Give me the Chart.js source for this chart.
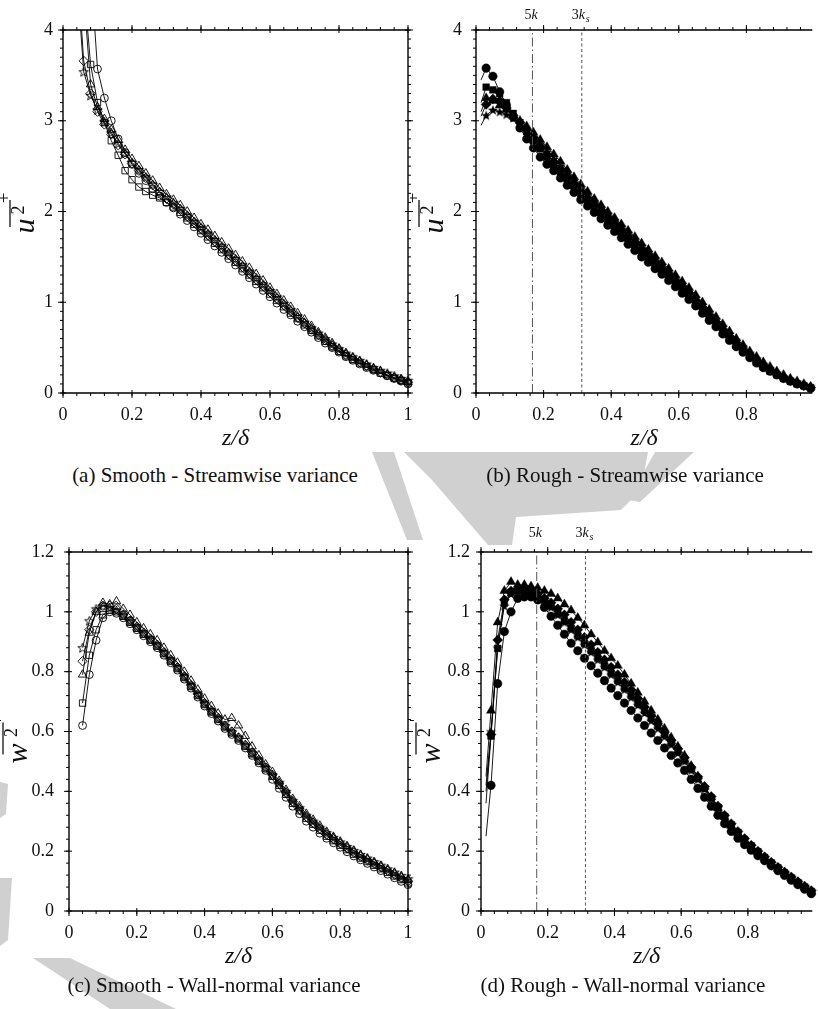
<!DOCTYPE html>
<html lang="en">
<head>
  <meta charset="UTF-8" />
  <title>Streamwise and wall-normal variance profiles</title>
  <script src="https://cdn.jsdelivr.net/npm/chart.js"></script>
  <style>
    body { margin: 0; background: #fff; width: 818px; height: 1009px; overflow: hidden; position: relative; }
    canvas { position: absolute; }
    .caption {
      position: absolute; transform: translate(-50%, -50%); white-space: nowrap;
      font-family: "Liberation Serif", "Times New Roman", serif; font-size: 21px; color: #111;
    }
    .mark { position: absolute; left: 0; top: 0; width: 818px; height: 1009px; background: #d0d0d0; }
  </style>
</head>
<body>
  <!-- pale background stamp -->
  <div class="mark" style="clip-path: polygon(372px 452px, 394px 452px, 423px 540px, 407px 540px)"></div>
  <div class="mark" style="clip-path: polygon(404px 452px, 648px 452px, 641px 490px, 621px 510px, 516px 517px, 512px 545px, 488px 545px, 432px 480px)"></div>
  <div class="mark" style="clip-path: polygon(655px 452px, 694px 452px, 640px 502px, 628px 500px)"></div>
  <div class="mark" style="clip-path: polygon(33px 958px, 70px 958px, 176px 1009px, 110px 1009px)"></div>
  <div class="mark" style="clip-path: polygon(0px 878px, 12px 878px, 8px 940px, 0px 946px)"></div>
  <div class="mark" style="clip-path: polygon(0px 782px, 8px 784px, 6px 814px, 0px 818px)"></div>

  <canvas id="smoothU" width="418" height="460" style="left:0;top:0"></canvas>
  <canvas id="roughU" width="408" height="460" style="left:410px;top:0"></canvas>
  <canvas id="smoothW" width="418" height="478" style="left:0;top:500px"></canvas>
  <canvas id="roughW" width="408" height="478" style="left:410px;top:500px"></canvas>
  <div class="caption" style="left:215px;top:475px">(a) Smooth - Streamwise variance</div>
  <div class="caption" style="left:625px;top:475px">(b) Rough - Streamwise variance</div>
  <div class="caption" style="left:214px;top:985px">(c) Smooth - Wall-normal variance</div>
  <div class="caption" style="left:623px;top:985px">(d) Rough - Wall-normal variance</div>

  <script>
    // wall-normal positions z/delta
    const zSmooth = [0.04, 0.06, 0.08, 0.1, 0.12, 0.14, 0.16, 0.18, 0.2, 0.22, 0.24, 0.26, 0.28, 0.3, 0.32, 0.34, 0.36, 0.38, 0.4, 0.42,
      0.44, 0.46, 0.48, 0.5, 0.52, 0.54, 0.56, 0.58, 0.6, 0.62, 0.64, 0.66, 0.68, 0.7, 0.72, 0.74, 0.76, 0.78, 0.8, 0.82,
      0.84, 0.86, 0.88, 0.9, 0.92, 0.94, 0.96, 0.98, 1.0];
    const zRough = [0.015, 0.03, 0.05, 0.07, 0.09, 0.11, 0.13, 0.15, 0.17, 0.19, 0.21, 0.23, 0.25, 0.27, 0.29, 0.31, 0.33, 0.35, 0.37, 0.39,
      0.41, 0.43, 0.45, 0.47, 0.49, 0.51, 0.53, 0.55, 0.57, 0.59, 0.61, 0.63, 0.65, 0.67, 0.69, 0.71, 0.73, 0.75, 0.77, 0.79,
      0.81, 0.83, 0.85, 0.87, 0.89, 0.91, 0.93, 0.95, 0.97, 0.99];

    // smooth wall, streamwise variance u'^2+
    const smoothUCircle = [null, null, 4.7, 3.57, 3.25, 3.0, 2.8, 2.65, 2.52, 2.42, 2.34, 2.25, 2.17, 2.1, 2.04, 1.97, 1.9, 1.83, 1.76, 1.69,
      1.62, 1.55, 1.48, 1.41, 1.34, 1.27, 1.2, 1.13, 1.06, 0.99, 0.92, 0.86, 0.79, 0.73, 0.67, 0.61, 0.55, 0.5, 0.45, 0.4,
      0.36, 0.32, 0.28, 0.25, 0.22, 0.19, 0.16, 0.13, 0.1];
    const smoothUSquare = [null, 4.5, 3.62, 3.2, 2.98, 2.78, 2.62, 2.45, 2.35, 2.27, 2.22, 2.18, 2.15, 2.1, 2.05, 1.99, 1.93, 1.86, 1.79, 1.72,
      1.65, 1.58, 1.51, 1.44, 1.37, 1.3, 1.23, 1.16, 1.09, 1.02, 0.95, 0.88, 0.82, 0.75, 0.69, 0.63, 0.57, 0.51, 0.46, 0.41,
      0.37, 0.33, 0.29, 0.26, 0.22, 0.19, 0.16, 0.14, 0.11];
    const smoothUDiamond = [4.8, 3.66, 3.3, 3.1, 2.96, 2.85, 2.73, 2.63, 2.53, 2.45, 2.37, 2.29, 2.21, 2.14, 2.08, 2.02, 1.95, 1.88, 1.81, 1.74,
      1.67, 1.6, 1.53, 1.46, 1.39, 1.32, 1.25, 1.18, 1.11, 1.04, 0.97, 0.9, 0.83, 0.77, 0.7, 0.64, 0.58, 0.52, 0.47, 0.42,
      0.38, 0.34, 0.3, 0.26, 0.23, 0.2, 0.17, 0.14, 0.12];
    const smoothUTriangle = [null, 4.4, 3.4, 3.15, 3.02, 2.9, 2.79, 2.68, 2.58, 2.5, 2.42, 2.34, 2.26, 2.19, 2.13, 2.07, 2.0, 1.93, 1.86, 1.8,
      1.73, 1.66, 1.59, 1.52, 1.45, 1.38, 1.31, 1.24, 1.16, 1.09, 1.02, 0.95, 0.88, 0.81, 0.74, 0.67, 0.61, 0.55, 0.49, 0.44,
      0.39, 0.35, 0.31, 0.27, 0.24, 0.2, 0.17, 0.15, 0.12];
    const smoothUStar = [4.6, 3.54, 3.28, 3.12, 2.99, 2.87, 2.75, 2.64, 2.54, 2.46, 2.38, 2.3, 2.22, 2.16, 2.1, 2.03, 1.96, 1.89, 1.83, 1.76,
      1.69, 1.62, 1.55, 1.48, 1.41, 1.34, 1.27, 1.2, 1.13, 1.06, 0.99, 0.92, 0.85, 0.78, 0.72, 0.66, 0.6, 0.54, 0.49, 0.44,
      0.4, 0.36, 0.32, 0.28, 0.25, 0.22, 0.19, 0.16, 0.14];

    // rough wall, streamwise variance
    const roughUCircle = [3.45, 3.58, 3.49, 3.32, 3.17, 3.04, 2.92, 2.8, 2.7, 2.6, 2.52, 2.45, 2.37, 2.29, 2.21, 2.13, 2.06, 1.99, 1.92, 1.85,
      1.78, 1.71, 1.64, 1.57, 1.5, 1.44, 1.37, 1.31, 1.24, 1.17, 1.1, 1.03, 0.96, 0.88, 0.8, 0.73, 0.65, 0.58, 0.51, 0.45,
      0.39, 0.33, 0.28, 0.24, 0.2, 0.16, 0.13, 0.1, 0.08, 0.05];
    const roughUSquare = [3.2, 3.37, 3.34, 3.3, 3.2, 3.08, 2.98, 2.88, 2.78, 2.69, 2.6, 2.52, 2.44, 2.36, 2.28, 2.2, 2.12, 2.05, 1.98, 1.91,
      1.84, 1.77, 1.7, 1.63, 1.56, 1.49, 1.42, 1.35, 1.28, 1.21, 1.14, 1.07, 0.99, 0.91, 0.83, 0.75, 0.67, 0.6, 0.53, 0.46,
      0.4, 0.34, 0.29, 0.24, 0.2, 0.16, 0.13, 0.1, 0.08, 0.06];
    const roughUDiamond = [3.05, 3.18, 3.24, 3.22, 3.14, 3.06, 2.98, 2.9, 2.81, 2.72, 2.63, 2.55, 2.47, 2.39, 2.31, 2.23, 2.15, 2.08, 2.01, 1.94,
      1.87, 1.8, 1.73, 1.66, 1.59, 1.52, 1.45, 1.38, 1.31, 1.24, 1.17, 1.1, 1.02, 0.94, 0.86, 0.78, 0.7, 0.62, 0.55, 0.48,
      0.42, 0.36, 0.3, 0.25, 0.21, 0.17, 0.14, 0.11, 0.08, 0.06];
    const roughUTriangle = [3.1, 3.25, 3.22, 3.17, 3.12, 3.06, 3.0, 2.94, 2.87, 2.79, 2.71, 2.63, 2.55, 2.46, 2.38, 2.3, 2.22, 2.14, 2.07, 2.0,
      1.93, 1.86, 1.79, 1.72, 1.65, 1.58, 1.51, 1.44, 1.37, 1.3, 1.23, 1.16, 1.08, 1.0, 0.92, 0.84, 0.76, 0.68, 0.6, 0.53,
      0.46, 0.4, 0.34, 0.29, 0.24, 0.2, 0.16, 0.13, 0.1, 0.07];
    const roughUStar = [2.95, 3.06, 3.12, 3.1, 3.07, 3.03, 2.97, 2.9, 2.82, 2.74, 2.66, 2.58, 2.5, 2.42, 2.34, 2.26, 2.18, 2.11, 2.04, 1.97,
      1.9, 1.83, 1.76, 1.69, 1.62, 1.55, 1.48, 1.41, 1.34, 1.27, 1.2, 1.13, 1.05, 0.97, 0.89, 0.81, 0.73, 0.65, 0.58, 0.51,
      0.44, 0.38, 0.32, 0.27, 0.22, 0.18, 0.15, 0.12, 0.09, 0.07];

    // smooth wall, wall-normal variance w'^2+
    const smoothWCircle = [0.62, 0.79, 0.905, 0.98, 1.0, 0.995, 0.98, 0.96, 0.94, 0.92, 0.9, 0.88, 0.855, 0.83, 0.805, 0.775, 0.745, 0.715, 0.685, 0.66,
      0.635, 0.61, 0.59, 0.57, 0.545, 0.52, 0.495, 0.47, 0.44, 0.41, 0.38, 0.35, 0.325, 0.3, 0.28, 0.26, 0.243, 0.228, 0.213, 0.198,
      0.184, 0.171, 0.159, 0.147, 0.135, 0.123, 0.111, 0.099, 0.088];
    const smoothWSquare = [0.695, 0.855, 0.94, 0.99, 1.005, 1.0, 0.985, 0.965, 0.945, 0.925, 0.905, 0.885, 0.86, 0.835, 0.81, 0.78, 0.75, 0.72, 0.69, 0.665,
      0.64, 0.615, 0.595, 0.575, 0.55, 0.525, 0.5, 0.475, 0.45, 0.42, 0.39, 0.36, 0.335, 0.31, 0.29, 0.27, 0.25, 0.235, 0.22, 0.205,
      0.19, 0.177, 0.165, 0.153, 0.141, 0.129, 0.117, 0.105, 0.094];
    const smoothWDiamond = [0.835, 0.94, 1.0, 1.02, 1.02, 1.01, 0.99, 0.97, 0.95, 0.93, 0.91, 0.89, 0.865, 0.84, 0.815, 0.785, 0.755, 0.725, 0.695, 0.67,
      0.645, 0.62, 0.6, 0.58, 0.555, 0.53, 0.505, 0.48, 0.455, 0.425, 0.395, 0.365, 0.34, 0.315, 0.295, 0.275, 0.255, 0.24, 0.225, 0.21,
      0.195, 0.182, 0.17, 0.158, 0.146, 0.134, 0.122, 0.11, 0.1];
    const smoothWTriangle = [0.79, 0.93, 1.0, 1.03, 1.025, 1.035, 1.01, 0.99, 0.965, 0.945, 0.925, 0.905, 0.88, 0.855, 0.83, 0.8, 0.77, 0.74, 0.71, 0.685,
      0.66, 0.64, 0.645, 0.62, 0.585, 0.55, 0.52, 0.49, 0.465, 0.435, 0.405, 0.375, 0.35, 0.325, 0.305, 0.285, 0.265, 0.248, 0.232, 0.217,
      0.202, 0.188, 0.175, 0.163, 0.151, 0.139, 0.127, 0.115, 0.104];
    const smoothWStar = [0.88, 0.97, 1.01, 1.02, 1.015, 1.005, 0.99, 0.97, 0.95, 0.93, 0.91, 0.89, 0.865, 0.84, 0.815, 0.785, 0.755, 0.725, 0.695, 0.67,
      0.645, 0.62, 0.6, 0.58, 0.555, 0.53, 0.505, 0.48, 0.455, 0.43, 0.4, 0.37, 0.345, 0.32, 0.3, 0.28, 0.262, 0.246, 0.231, 0.216,
      0.202, 0.189, 0.177, 0.165, 0.153, 0.141, 0.13, 0.119, 0.108];

    // rough wall, wall-normal variance
    const roughWCircle = [0.25, 0.42, 0.76, 0.934, 1.0, 1.045, 1.05, 1.05, 1.04, 1.015, 0.985, 0.955, 0.925, 0.895, 0.87, 0.845, 0.82, 0.795, 0.77, 0.745,
      0.72, 0.695, 0.67, 0.645, 0.62, 0.595, 0.57, 0.545, 0.52, 0.495, 0.47, 0.44, 0.41, 0.38, 0.35, 0.32, 0.292, 0.266, 0.243, 0.222,
      0.203, 0.185, 0.168, 0.151, 0.135, 0.119, 0.103, 0.088, 0.073, 0.058];
    const roughWSquare = [0.36, 0.585, 0.878, 1.03, 1.065, 1.07, 1.07, 1.065, 1.055, 1.04, 1.02, 0.995, 0.97, 0.945, 0.92, 0.895, 0.87, 0.845, 0.82, 0.795,
      0.77, 0.745, 0.72, 0.695, 0.67, 0.645, 0.618, 0.59, 0.562, 0.534, 0.505, 0.475, 0.443, 0.41, 0.378, 0.346, 0.316, 0.288, 0.262, 0.239,
      0.218, 0.198, 0.179, 0.161, 0.144, 0.127, 0.111, 0.095, 0.08, 0.065];
    const roughWDiamond = [0.4, 0.59, 0.906, 1.04, 1.07, 1.075, 1.075, 1.07, 1.06, 1.045, 1.03, 1.01, 0.99, 0.965, 0.94, 0.915, 0.89, 0.865, 0.84, 0.815,
      0.79, 0.765, 0.738, 0.71, 0.682, 0.654, 0.626, 0.598, 0.57, 0.542, 0.512, 0.481, 0.449, 0.416, 0.383, 0.351, 0.32, 0.292, 0.266, 0.242,
      0.22, 0.2, 0.181, 0.163, 0.146, 0.13, 0.114, 0.098, 0.083, 0.068];
    const roughWTriangle = [0.45, 0.67, 0.965, 1.07, 1.1, 1.09, 1.09, 1.085, 1.08, 1.07, 1.06, 1.045, 1.025, 1.005, 0.98, 0.955, 0.925, 0.898, 0.87, 0.845,
      0.82, 0.79, 0.76, 0.73, 0.7, 0.67, 0.64, 0.61, 0.58, 0.55, 0.52, 0.485, 0.45, 0.415, 0.38, 0.345, 0.315, 0.285, 0.26, 0.238,
      0.216, 0.196, 0.177, 0.159, 0.142, 0.126, 0.11, 0.095, 0.08, 0.065];
    const roughWStar = [0.42, 0.6, 0.88, 1.02, 1.06, 1.07, 1.07, 1.06, 1.05, 1.035, 1.015, 0.99, 0.965, 0.94, 0.915, 0.89, 0.865, 0.84, 0.815, 0.79,
      0.765, 0.74, 0.714, 0.688, 0.662, 0.636, 0.61, 0.583, 0.556, 0.528, 0.5, 0.47, 0.44, 0.408, 0.376, 0.345, 0.315, 0.287, 0.262, 0.239,
      0.218, 0.198, 0.18, 0.162, 0.145, 0.129, 0.113, 0.098, 0.083, 0.068];

    // 5k and 3k_s reference heights on the rough-wall panels
    const refLines = [0.167, 0.313];

    const SERIF = '"Liberation Serif", "Times New Roman", serif';
    Chart.defaults.font.family = SERIF;
    Chart.defaults.color = '#111';

    function starImage(r, filled) {
      const c = document.createElement('canvas');
      const s = Math.ceil(r * 2 + 3);
      c.width = c.height = s;
      const g = c.getContext('2d');
      g.translate(s / 2, s / 2 + 0.5);
      g.beginPath();
      for (let i = 0; i < 10; i++) {
        const rr = i % 2 ? r * 0.42 : r;
        const a = -Math.PI / 2 + i * Math.PI / 5;
        g.lineTo(rr * Math.cos(a), rr * Math.sin(a));
      }
      g.closePath();
      if (filled) { g.fillStyle = '#000'; g.fill(); }
      else { g.strokeStyle = '#000'; g.lineWidth = 0.9; g.stroke(); }
      return c;
    }

    const openMarks = [
      { style: 'circle', r: 3.9 }, { style: 'rect', r: 4.5 }, { style: 'rectRot', r: 4.7 },
      { style: 'triangle', r: 4.9 }, { style: starImage(5, false), r: 5 }
    ];
    const filledMarks = [
      { style: 'circle', r: 4.3 }, { style: 'rect', r: 4.8 }, { style: 'rectRot', r: 5 },
      { style: 'triangle', r: 5.3 }, { style: starImage(5.3, true), r: 5.3 }
    ];

    function makeDatasets(z, seriesList, marks, rough) {
      return seriesList.map((vals, i) => ({
        data: z.map((x, j) => ({ x: x, y: vals[j] })),
        borderColor: '#000',
        borderWidth: 0.9,
        pointStyle: marks[i].style,
        pointRadius: rough ? (c => c.dataIndex === 0 ? 0 : marks[i].r) : marks[i].r,
        pointBorderColor: '#000',
        pointBorderWidth: rough ? 0.4 : 0.9,
        pointBackgroundColor: rough ? '#000' : 'rgba(0,0,0,0)',
        tension: 0,
        clip: { left: 6, top: 0, right: 6, bottom: 6 }
      }));
    }

    function refDatasets(ymax) {
      return [
        { data: [{ x: refLines[0], y: 0 }, { x: refLines[0], y: ymax }], borderColor: '#555', borderWidth: 1,
          borderDash: [9, 3, 1.5, 3], pointRadius: 0 },
        { data: [{ x: refLines[1], y: 0 }, { x: refLines[1], y: ymax }], borderColor: '#555', borderWidth: 1,
          borderDash: [3, 2.5], pointRadius: 0 }
      ];
    }

    // variance symbol with overbar and '+' superscript, written bottom-to-top
    function drawVarLabel(ctx, cx, cy, letter) {
      ctx.save();
      ctx.translate(cx, cy);
      ctx.rotate(-Math.PI / 2);
      ctx.fillStyle = '#111';
      ctx.strokeStyle = '#111';
      ctx.textBaseline = 'alphabetic';
      ctx.font = 'italic 30px ' + SERIF;
      const w = ctx.measureText(letter).width;
      ctx.font = '18px ' + SERIF;
      const w2 = ctx.measureText('2').width;
      const x0 = -(w + w2 + 1) / 2;
      ctx.font = 'italic 30px ' + SERIF;
      ctx.fillText(letter, x0, 8);
      ctx.font = '18px ' + SERIF;
      const x2 = x0 + w + 1;
      ctx.fillText('2', x2, -2);
      ctx.lineWidth = 1.3;
      ctx.beginPath();
      ctx.moveTo(x0 - 1, -16);
      ctx.lineTo(x2 + w2 + 1, -16);
      ctx.stroke();
      ctx.font = '19px ' + SERIF;
      ctx.textAlign = 'center';
      ctx.fillText('+', x2 + w2 + 3, -16);
      ctx.restore();
    }

    const framePlugin = {
      id: 'frame',
      afterDatasetsDraw(chart, args, o) {
        const { ctx, chartArea: a, scales: { x, y } } = chart;
        ctx.save();
        ctx.strokeStyle = '#000';
        ctx.lineWidth = 1.4;
        ctx.beginPath();
        ctx.moveTo(a.left, a.top); ctx.lineTo(a.left, a.bottom);
        ctx.moveTo(a.left - 0.7, a.bottom); ctx.lineTo(a.right + (o.rightEdge ? 0.7 : 0), a.bottom);
        ctx.moveTo(a.left - 0.7, a.top); ctx.lineTo(a.right + (o.rightEdge ? 0.7 : 0), a.top);
        if (o.rightEdge) { ctx.moveTo(a.right, a.top); ctx.lineTo(a.right, a.bottom); }
        ctx.stroke();

        ctx.lineWidth = 1;
        ctx.beginPath();
        x.ticks.forEach(t => {
          const px = x.getPixelForValue(t.value);
          ctx.moveTo(px, a.bottom - 3); ctx.lineTo(px, a.bottom + 5);
          ctx.moveTo(px, a.top + 3); ctx.lineTo(px, a.top - 5);
        });
        y.ticks.forEach(t => {
          const py = y.getPixelForValue(t.value);
          ctx.moveTo(a.left + 3, py); ctx.lineTo(a.left - 5, py);
          if (o.rightEdge) { ctx.moveTo(a.right - 3, py); ctx.lineTo(a.right + 5, py); }
        });
        for (let k = 0; k * o.xMinor <= x.max + 1e-9; k++) {
          const px = x.getPixelForValue(k * o.xMinor);
          ctx.moveTo(px, a.bottom); ctx.lineTo(px, a.bottom + 3);
          ctx.moveTo(px, a.top); ctx.lineTo(px, a.top - 3);
        }
        for (let k = 0; k * o.yMinor <= y.max + 1e-9; k++) {
          const py = y.getPixelForValue(k * o.yMinor);
          ctx.moveTo(a.left, py); ctx.lineTo(a.left - 3, py);
          if (o.rightEdge) { ctx.moveTo(a.right, py); ctx.lineTo(a.right + 3, py); }
        }
        ctx.stroke();

        // axis titles
        ctx.fillStyle = '#111';
        ctx.font = 'italic 24px ' + SERIF;
        ctx.textAlign = 'center';
        ctx.textBaseline = 'middle';
        ctx.fillText('z/\u03b4', (a.left + a.right) / 2, a.bottom + o.xTitleGap);
        drawVarLabel(ctx, a.left + o.yTitleDx, (a.top + a.bottom) / 2 + o.yTitleDy, o.letter);

        if (o.refs) {
          ctx.textBaseline = 'alphabetic';
          const p1 = x.getPixelForValue(refLines[0]);
          const p2 = x.getPixelForValue(refLines[1]);
          const ty = a.top - o.refGap;
          ctx.font = '14px ' + SERIF;
          ctx.textAlign = 'right';
          ctx.fillText('5', p1 - 1, ty);
          ctx.fillText('3', p2 - 3, ty);
          ctx.textAlign = 'left';
          ctx.font = 'italic 14px ' + SERIF;
          ctx.fillText('k', p1 - 1, ty);
          ctx.fillText('k', p2 - 3, ty);
          ctx.font = 'italic 10px ' + SERIF;
          ctx.fillText('s', p2 + 4, ty + 3);
        }
        ctx.restore();
      }
    };

    function makeChart(id, cfg) {
      new Chart(document.getElementById(id), {
        type: 'line',
        data: { datasets: cfg.datasets },
        plugins: [framePlugin],
        options: {
          responsive: false,
          devicePixelRatio: 1,
          animation: false,
          events: [],
          layout: { padding: cfg.padding },
          plugins: {
            legend: { display: false },
            tooltip: { enabled: false },
            frame: cfg.frame
          },
          scales: {
            x: {
              type: 'linear', min: 0, max: cfg.xMax,
              grid: { display: false, drawTicks: false },
              border: { display: false },
              ticks: { stepSize: 0.2, includeBounds: false, padding: 11, maxRotation: 0,
                font: { size: 18 }, color: '#111', callback: v => String(Number(v.toFixed(2))) },
              afterFit: s => { s.height = cfg.xHeight; s.paddingLeft = 0; s.paddingRight = 0; }
            },
            y: {
              type: 'linear', min: 0, max: cfg.yMax,
              grid: { display: false, drawTicks: false },
              border: { display: false },
              ticks: { stepSize: cfg.yStep, padding: cfg.yPad, font: { size: 18 }, color: '#111',
                callback: v => String(Number(v.toFixed(2))) },
              afterFit: s => { s.width = 50; s.paddingTop = 0; s.paddingBottom = 0; }
            }
          }
        }
      });
    }

    makeChart('smoothU', {
      datasets: makeDatasets(zSmooth, [smoothUCircle, smoothUSquare, smoothUDiamond, smoothUTriangle, smoothUStar], openMarks, false),
      padding: { left: 13, top: 30, right: 10, bottom: 0 }, xHeight: 67,
      xMax: 1, yMax: 4, yStep: 1, yPad: 10,
      frame: { rightEdge: true, xMinor: 0.04, yMinor: 0.1, xTitleGap: 46, yTitleDx: -37, yTitleDy: 2, letter: 'u' }
    });
    makeChart('roughU', {
      datasets: refDatasets(4).concat(makeDatasets(zRough, [roughUCircle, roughUSquare, roughUDiamond, roughUTriangle, roughUStar], filledMarks, true)),
      padding: { left: 16, top: 30, right: 0, bottom: 0 }, xHeight: 67,
      xMax: 0.995, yMax: 4, yStep: 1, yPad: 14,
      frame: { rightEdge: false, xMinor: 0.04, yMinor: 0.1, xTitleGap: 46, yTitleDx: -41, yTitleDy: 2, letter: 'u', refs: true, refGap: 11 }
    });
    makeChart('smoothW', {
      datasets: makeDatasets(zSmooth, [smoothWCircle, smoothWSquare, smoothWDiamond, smoothWTriangle, smoothWStar], openMarks, false),
      padding: { left: 19, top: 52, right: 10, bottom: 0 }, xHeight: 67,
      xMax: 1, yMax: 1.2, yStep: 0.2, yPad: 15,
      frame: { rightEdge: true, xMinor: 0.04, yMinor: 0.04, xTitleGap: 46, yTitleDx: -50, yTitleDy: 7, letter: 'w' }
    });
    makeChart('roughW', {
      datasets: refDatasets(1.2).concat(makeDatasets(zRough, [roughWCircle, roughWSquare, roughWDiamond, roughWTriangle, roughWStar], filledMarks, true)),
      padding: { left: 21, top: 52, right: 0, bottom: 0 }, xHeight: 67,
      xMax: 0.993, yMax: 1.2, yStep: 0.2, yPad: 11,
      frame: { rightEdge: false, xMinor: 0.04, yMinor: 0.04, xTitleGap: 46, yTitleDx: -49, yTitleDy: 7, letter: 'w', refs: true, refGap: 15 }
    });
  </script>
</body>
</html>
